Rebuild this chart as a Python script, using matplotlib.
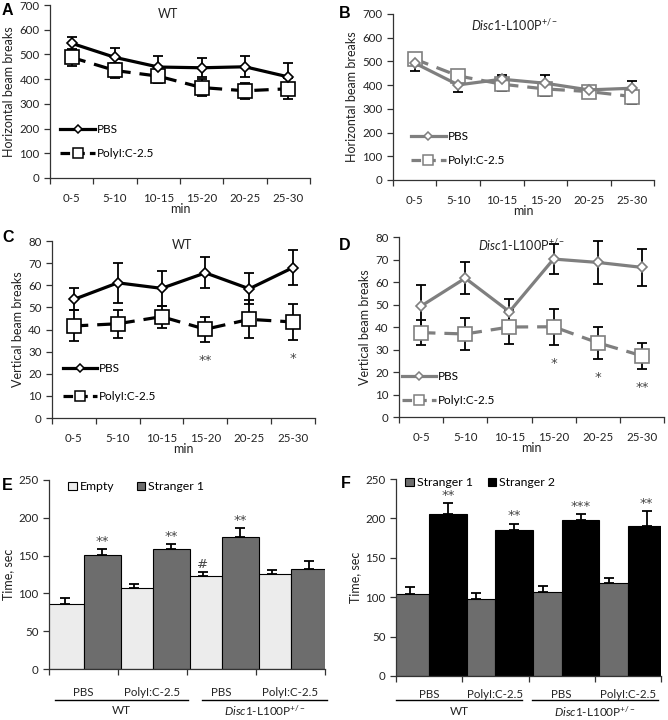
import matplotlib
matplotlib.use("Agg")
import matplotlib.pyplot as plt
from matplotlib.lines import Line2D
import numpy as np

plt.rcParams['font.family'] = ['Lato', 'DejaVu Sans']
plt.rcParams['mathtext.fontset'] = 'custom'
plt.rcParams['mathtext.rm'] = 'Lato'
plt.rcParams['mathtext.it'] = 'Lato:italic'

# ---------------- data ----------------
cats = ['0-5', '5-10', '10-15', '15-20', '20-25', '25-30']

a_pbs = [545, 488, 449, 446, 450, 409]
a_pbs_err = [27, 40, 44, 38, 43, 57]
a_poly = [488, 435, 412, 366, 353, 361]
a_poly_err = [35, 30, 27, 34, 33, 42]

b_pbs = [493, 401, 425, 408, 380, 387]
b_pbs_err = [33, 28, 18, 33, 15, 30]
b_poly = [510, 439, 404, 384, 373, 352]
b_poly_err = [22, 25, 30, 28, 18, 33]

c_pbs = [53.6, 61.1, 58.6, 65.6, 58.4, 68.0]
c_pbs_err = [5.0, 9.0, 8.0, 7.0, 7.0, 8.0]
c_poly = [41.6, 42.6, 45.8, 40.1, 44.6, 43.4]
c_poly_err = [7.0, 6.3, 5.0, 5.6, 8.6, 8.2]
c_stars = ['', '', '', '**', '', '*']

d_pbs = [49.3, 61.7, 46.8, 70.2, 68.7, 66.5]
d_pbs_err = [9.4, 7.0, 5.8, 6.7, 9.4, 8.2]
d_poly = [37.5, 36.9, 40.0, 40.1, 33.0, 27.2]
d_poly_err = [5.7, 7.0, 7.5, 8.0, 7.0, 5.7]
d_stars = ['', '', '', '*', '*', '**']

bar_groups = ['PBS', 'PolyI:C-2.5', 'PBS', 'PolyI:C-2.5']
genotypes = ['WT', r'$\mathit{Disc1}$-L100P$^{+/-}$']

e_empty = [85.4, 107.8, 122.4, 125.9]
e_empty_err = [8.0, 4.5, 5.5, 4.4]
e_s1 = [151.0, 159.3, 175.2, 132.5]
e_s1_err = [7.5, 6.2, 11.0, 10.5]
e_empty_marks = ['', '', '#', '']
e_s1_marks = ['**', '**', '**', '']

f_s1 = [104.4, 97.3, 106.0, 118.2]
f_s1_err = [8.4, 8.0, 8.0, 6.4]
f_s2 = [205.7, 185.8, 197.6, 190.9]
f_s2_err = [14.0, 7.6, 8.4, 18.0]
f_s2_marks = ['**', '**', '***', '**']

# ---------------- figure ----------------
W, H = 668, 720
fig = plt.figure(figsize=(W / 100, H / 100), dpi=100)


def px_axes(l, r, t, b):
    return fig.add_axes([l / W, 1 - b / H, (r - l) / W, (b - t) / H])


AX_COL = '#333333'
TXT_COL = '#222222'
TICK_FS = 8.3
LAB_FS = 9
STAR_KW = dict(fontsize=9.5, family='DejaVu Sans', color='#444444', ha='center')


def style_axes(ax, ncat):
    for s in ['top', 'right']:
        ax.spines[s].set_visible(False)
    for s in ['left', 'bottom']:
        ax.spines[s].set_color(AX_COL)
        ax.spines[s].set_linewidth(0.9)
    ax.set_xlim(-0.5, ncat - 0.5)
    ax.set_xticks(np.arange(ncat))
    ax.set_xticks(np.arange(ncat + 1) - 0.5, minor=True)
    ax.tick_params(axis='x', which='major', length=0, labelsize=TICK_FS, colors=TXT_COL)
    ax.tick_params(axis='x', which='minor', length=4, direction='out', color=AX_COL, width=0.9)
    ax.tick_params(axis='y', which='major', length=4, direction='out', labelsize=TICK_FS,
                   color=AX_COL, width=0.9, labelcolor=TXT_COL)


DASH = (0, (4.5, 2.8))


def line_panel(ax, pbs, pbs_err, poly, poly_err, color, ymax, ystep, ylabel, leg_anchor, leg_space):
    x = np.arange(len(cats))
    ax.errorbar(x, pbs, yerr=pbs_err, fmt='none', ecolor='black', elinewidth=1.3,
                capsize=3.5, capthick=1.3, zorder=2)
    ax.errorbar(x, poly, yerr=poly_err, fmt='none', ecolor='black', elinewidth=1.3,
                capsize=3.5, capthick=1.3, zorder=2)
    ax.plot(x, pbs, color=color, lw=2.3, marker='D', ms=5.2, mfc='white', mec=color,
            mew=1.2, zorder=4)
    ax.plot(x, poly, color=color, lw=2.3, ls=DASH, marker='s', ms=9.5,
            mfc='white', mec=color, mew=1.2, zorder=3)
    h1 = Line2D([], [], color=color, lw=2.3, marker='D', ms=4.5, mfc='white', mec=color, mew=1.1)
    h2 = Line2D([], [], color=color, lw=2.3, ls=(0, (3, 1.6)), marker='s', ms=6.5, mfc='white',
                mec=color, mew=1.1)
    style_axes(ax, len(cats))
    ax.set_xticklabels(cats)
    ax.tick_params(axis='x', which='major', pad=11)
    ax.set_ylim(0, ymax)
    ax.set_yticks(np.arange(0, ymax + 1e-9, ystep))
    ax.set_ylabel(ylabel, fontsize=LAB_FS, color=TXT_COL, labelpad=3)
    ax.set_xlabel('min', fontsize=LAB_FS, color=TXT_COL, labelpad=-1)
    ax.legend(handles=[h1, h2], labels=['PBS', 'PolyI:C-2.5'], loc='center left',
              bbox_to_anchor=leg_anchor, frameon=False, fontsize=8.5, handlelength=2.9,
              handletextpad=0.2, labelspacing=leg_space, numpoints=1, borderaxespad=0,
              borderpad=0)
    return x


axA = px_axes(50, 310, 5, 178)
line_panel(axA, a_pbs, a_pbs_err, a_poly, a_poly_err, 'black', 700, 100,
           'Horizontal beam breaks', (0.04, 0.21), 1.1)
axB = px_axes(393, 654, 14, 180)
line_panel(axB, b_pbs, b_pbs_err, b_poly, b_poly_err, '#7f7f7f', 700, 100,
           'Horizontal beam breaks', (0.07, 0.19), 1.1)
axC = px_axes(52, 315, 241, 418)
xc = line_panel(axC, c_pbs, c_pbs_err, c_poly, c_poly_err, 'black', 80, 10,
                'Vertical beam breaks', (0.04, 0.20), 1.5)
axD = px_axes(399, 664, 237, 417)
xd = line_panel(axD, d_pbs, d_pbs_err, d_poly, d_poly_err, '#7f7f7f', 80, 10,
                'Vertical beam breaks', (0.01, 0.16), 1.1)

for ax, xs, vals, errs, marks in [(axC, xc, c_poly, c_poly_err, c_stars),
                                   (axD, xd, d_poly, d_poly_err, d_stars)]:
    for xi, v, e, m in zip(xs, vals, errs, marks):
        if m:
            ax.annotate(m, (xi, v - e), xytext=(0, -16), textcoords='offset points',
                        va='baseline', **STAR_KW)

# titles
fig.text(168 / W, 1 - 14 / H, genotypes[0], ha='center', va='center', fontsize=9, color=TXT_COL)
fig.text(514 / W, 1 - 25 / H, genotypes[1], ha='center', va='center', fontsize=9, color=TXT_COL)
fig.text(182 / W, 1 - 245 / H, genotypes[0], ha='center', va='center', fontsize=9, color=TXT_COL)
fig.text(521 / W, 1 - 245 / H, genotypes[1], ha='center', va='center', fontsize=9, color=TXT_COL)


def bar_panel(ax, v1, e1, v2, e2, c1, c2, lab1, lab2, width, marks1, marks2,
              leg_anchor, line_spans, line_y, text_y, tick_pad, colsp):
    x = np.arange(len(bar_groups))
    ax.bar(x - width / 2, v1, width, color=c1, edgecolor='black', lw=0.8, zorder=2, label=lab1)
    ax.bar(x + width / 2, v2, width, color=c2, edgecolor='black', lw=0.8, zorder=2, label=lab2)
    ax.errorbar(x - width / 2, v1, yerr=[np.zeros(len(v1)), e1], fmt='none', ecolor='black',
                elinewidth=1.3, capsize=3.5, capthick=1.3, zorder=3)
    ax.errorbar(x + width / 2, v2, yerr=[np.zeros(len(v2)), e2], fmt='none', ecolor='black',
                elinewidth=1.3, capsize=3.5, capthick=1.3, zorder=3)
    for xs, vals, errs, marks in [(x - width / 2, v1, e1, marks1), (x + width / 2, v2, e2, marks2)]:
        for xi, v, e, m in zip(xs, vals, errs, marks):
            if m:
                ax.annotate(m, (xi, v + e), xytext=(0, 3), textcoords='offset points',
                            va='baseline', **STAR_KW)
    style_axes(ax, len(bar_groups))
    ax.set_xticklabels(bar_groups)
    ax.tick_params(axis='x', which='major', pad=tick_pad)
    ax.set_ylim(0, 250)
    ax.set_yticks(np.arange(0, 251, 50))
    ax.set_ylabel('Time, sec', fontsize=LAB_FS, color=TXT_COL, labelpad=3)
    ax.legend(loc='center left', bbox_to_anchor=leg_anchor, frameon=False, ncol=2,
              fontsize=8.8, handlelength=0.7, handleheight=0.7, handletextpad=0.25,
              columnspacing=colsp, borderaxespad=0, borderpad=0)
    trans = ax.get_xaxis_transform()
    for (x0, x1), g in zip(line_spans, genotypes):
        ax.add_line(Line2D([x0, x1], [line_y, line_y], transform=trans, color='black',
                           lw=1.0, clip_on=False))
        ax.text((x0 + x1) / 2, text_y, g, transform=trans, ha='center', va='center',
                fontsize=8.5, color=TXT_COL)


axE = px_axes(49, 325, 480, 669)
bar_panel(axE, e_empty, e_empty_err, e_s1, e_s1_err, '#ececec', '#6d6d6d', 'Empty',
          'Stranger 1', 0.55, e_empty_marks, e_s1_marks, (0.07, 0.965),
          [(-0.41, 1.51), (1.72, 3.53)], -0.164, -0.222, 13, 1.8)

axF = px_axes(396, 661, 479, 676)
bar_panel(axF, f_s1, f_s1_err, f_s2, f_s2_err, '#6d6d6d', '#000000', 'Stranger 1',
          'Stranger 2', 0.57, ['', '', '', ''], f_s2_marks, (0.035, 0.98),
          [(-0.5, 1.40), (1.55, 3.45)], -0.12, -0.18, 9, 1.2)

# panel letters
for lab, px, py in [('A', 2, 15), ('B', 339, 18), ('C', 2, 242), ('D', 339, 250),
                    ('E', 2, 490), ('F', 341, 488)]:
    fig.text(px / W, 1 - py / H, lab, fontsize=11.5, fontweight='bold',
             family='Liberation Sans', ha='left', va='baseline')

fig.savefig('out.png', dpi=100)
